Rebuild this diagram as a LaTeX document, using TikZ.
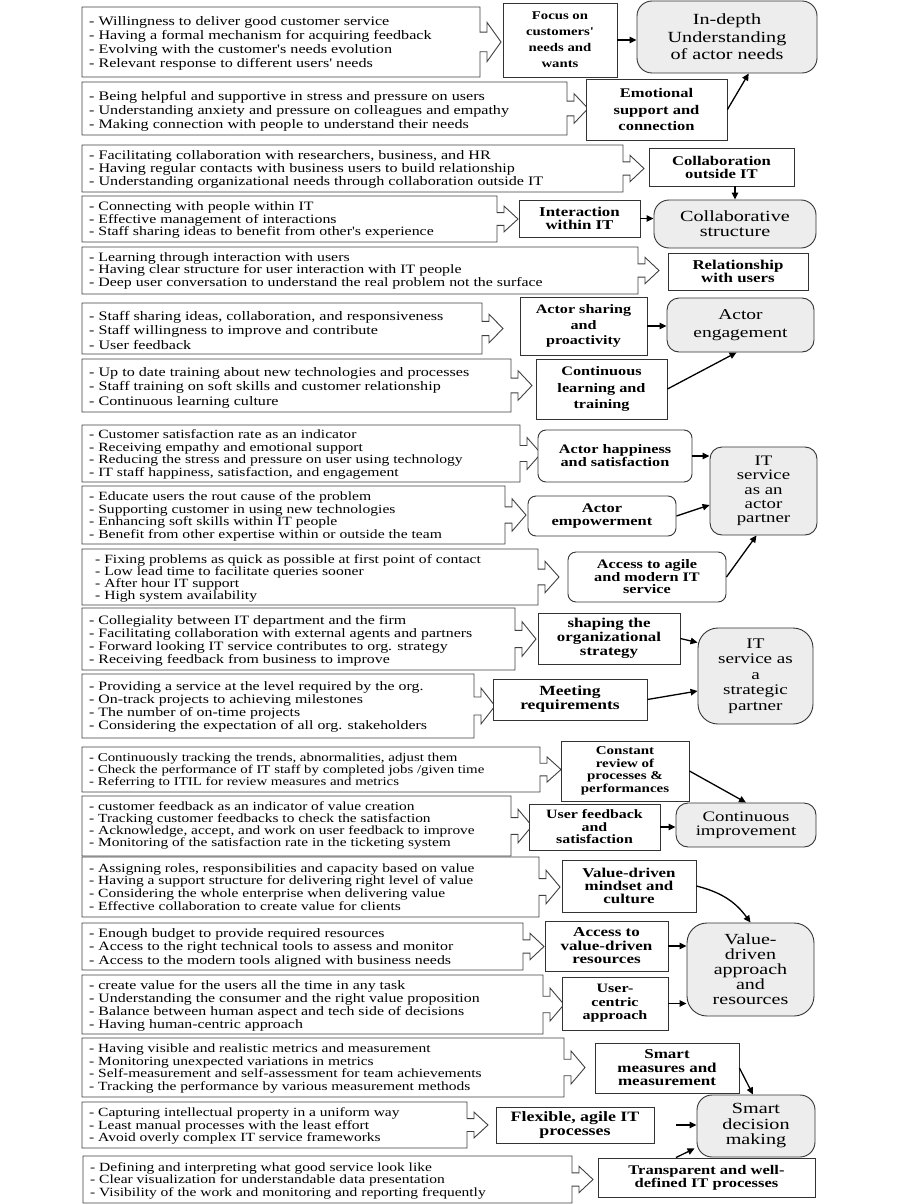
\documentclass[tikz,border=0pt]{standalone}
\usepackage{fontspec}
\setmainfont{Liberation Serif}
\newfontfamily\lfont{Liberation Serif}[FakeStretch=1.24]
\newfontfamily\mfont{Liberation Serif}[FakeStretch=1.25]
\newfontfamily\rfont{Liberation Serif}[FakeStretch=1.3]
\usetikzlibrary{arrows.meta,calc}

\tikzset{
 lout/.style={draw=black!75, line width=0.9pt, fill=white},
 ltxt/.style={anchor=west, align=left, inner sep=0pt, text=black},
 midbox/.style={draw=black!80, line width=0.9pt, fill=white, align=center, inner sep=0pt},
 rbox/.style={draw=black!80, line width=0.9pt, fill=black!7, align=center, inner sep=0pt},
 mf/.style 2 args={font=\mfont\bfseries\fontsize{#1}{#2}\selectfont},
 rf/.style 2 args={font=\rfont\fontsize{#1}{#2}\selectfont},
 conn/.style={-{Triangle[length=7pt,width=6.5pt]}, line width=1.3pt, black},
}

% #1 name, #2 x1, #3 y1, #4 x2, #5 y2, #6 text y, #7 font size, #8 skip, #9 text
\newcommand\callout[9]{%
 \pgfmathsetmacro\myCy{(#3+#5)/2}%
 \pgfmathsetmacro\myHh{0.28*(#5-#3)}%
 \pgfmathsetmacro\mySs{0.14*(#5-#3)}%
 \draw[lout] (#2,#3) -- (#4,#3) -- (#4,\myCy-\mySs) -- (#4+7,\myCy-\mySs) -- (#4+7,\myCy-\myHh)
   -- (#4+21,\myCy) -- (#4+7,\myCy+\myHh) -- (#4+7,\myCy+\mySs) -- (#4,\myCy+\mySs) -- (#4,#5) -- (#2,#5) -- cycle;
 \node[ltxt, font=\lfont\fontsize{#7}{#8}\selectfont] (#1) at (#2+7,#6) {#9};
}
% #1 style, #2 name, #3 x1, #4 y1, #5 x2, #6 y2, #7 text
\newcommand\boxat[7]{\node[#1, minimum width=#5-#3, minimum height=#6-#4] (#2) at ({(#3+#5)/2},{(#4+#6)/2}) {#7};}

\begin{document}
\begin{tikzpicture}[x=1pt,y=-1pt]
\fill[white] (0,0) rectangle (901,1204);
\useasboundingbox (0,0) rectangle (901,1204);

% ---------- left callout boxes ----------
\callout{L1}{82}{7}{480}{77}{43}{13}{14}{- Willingness to deliver good customer service\\- Having a formal mechanism for acquiring feedback\\- Evolving with the customer's needs evolution\\- Relevant response to different users' needs}
\callout{L2}{82}{82}{567}{135}{111}{13}{14}{- Being helpful and supportive in stress and pressure on users\\- Understanding anxiety and pressure on colleagues and empathy\\- Making connection with people to understand their needs}
\callout{L3}{82}{145}{623}{192}{169}{13}{13}{- Facilitating collaboration with researchers, business, and HR\\- Having regular contacts with business users to build relationship\\- Understanding organizational needs through collaboration outside IT}
\callout{L4}{82}{196}{497}{242}{220}{12.8}{12.5}{- Connecting with people within IT\\- Effective management of interactions\\- Staff sharing ideas to benefit from other's experience}
\callout{L5}{82}{247}{638}{294}{270.5}{12.8}{12.5}{- Learning through interaction with users\\- Having clear structure for user interaction with IT people\\- Deep user conversation to understand the real problem not the surface}
\callout{L6}{82}{303}{482}{354}{330}{13}{14.5}{- Staff sharing ideas, collaboration, and responsiveness\\- Staff willingness to improve and contribute\\- User feedback}
\callout{L7}{82}{359}{511}{412}{387.5}{13}{14.5}{- Up to date training about new technologies and processes\\- Staff training on soft skills and customer relationship\\- Continuous learning culture}
\callout{L8}{82}{425}{520}{482}{454.5}{12.6}{12.5}{- Customer satisfaction rate as an indicator\\- Receiving empathy and emotional support\\- Reducing the stress and pressure on user using technology\\- IT staff happiness, satisfaction, and engagement}
\callout{L9}{82}{486}{505}{544}{516.5}{12.6}{12.5}{- Educate users the rout cause of the problem\\- Supporting customer in using new technologies\\- Enhancing soft skills within IT people\\- Benefit from other expertise within or outside the team}
\callout{L10}{82}{549}{538}{605}{578}{12.6}{12}{\hspace*{6pt}- Fixing problems as quick as possible at first point of contact\\\hspace*{6pt}- Low lead time to facilitate queries sooner\\\hspace*{6pt}- After hour IT support\\\hspace*{6pt}- High system availability}
\callout{L11}{82}{608}{515}{670}{640.5}{12.8}{13}{- Collegiality between IT department and the firm\\- Facilitating collaboration with external agents and partners\\- Forward looking IT service contributes to org. strategy\\- Receiving feedback from business to improve}
\callout{L12}{82}{674}{474}{738}{706.5}{12.8}{13}{- Providing a service at the level required by the org.\\- On-track projects to achieving milestones\\- The number of on-time projects\\- Considering the expectation of all org. stakeholders}
\callout{L13}{82}{747}{540}{792}{771}{12}{12}{- Continuously tracking the trends, abnormalities, adjust them\\- Check the performance of IT staff by completed jobs /given time\\- Referring to ITIL for review measures and metrics}
\callout{L14}{82}{796}{511}{856}{825}{12.4}{12}{- customer feedback as an indicator of value creation\\- Tracking customer feedbacks to check the satisfaction\\- Acknowledge, accept, and work on user feedback to improve\\- Monitoring of the satisfaction rate in the ticketing system}
\callout{L15}{82}{857}{539}{917}{887}{12.5}{12.7}{- Assigning roles, responsibilities and capacity based on value\\- Having a support structure for delivering right level of value\\- Considering the whole enterprise when delivering value\\- Effective collaboration to create value for clients}
\callout{L16}{82}{923}{523}{970}{947.5}{12.8}{13.5}{- Enough budget to provide required resources\\- Access to the right technical tools to assess and monitor\\- Access to the modern tools aligned with business needs}
\callout{L17}{82}{975}{543}{1034}{1005.5}{12.8}{13}{- create value for the users all the time in any task\\- Understanding the consumer and the right value proposition\\- Balance between human aspect and tech side of decisions\\- Having human-centric approach}
\callout{L18}{82}{1038}{564}{1097}{1068.5}{12.5}{12.5}{- Having visible and realistic metrics and measurement\\- Monitoring unexpected variations in metrics\\- Self-measurement and self-assessment for team achievements\\- Tracking the performance by various measurement methods}
\callout{L19}{82}{1102}{467}{1148}{1126}{12.5}{12.5}{- Capturing intellectual property in a uniform way\\- Least manual processes with the least effort\\- Avoid overly complex IT service frameworks}
\callout{L20}{83}{1156}{572}{1203}{1180.5}{12.5}{12.5}{- Defining and interpreting what good service look like\\- Clear visualization for understandable data presentation\\- Visibility of the work and monitoring and reporting frequently}

% ---------- middle boxes ----------
\boxat{midbox, mf={11.8}{16}}{M1}{503}{3}{617}{77}{Focus on\\customers'\\needs and\\wants}
\boxat{midbox, mf={13.2}{16.5}}{M2}{586}{79}{727}{140}{Emotional\\support and\\connection}
\boxat{midbox, mf={13.3}{13}}{M3}{649}{148}{794}{186}{Collaboration\\outside IT}
\boxat{midbox, mf={13.5}{13}}{M4}{519}{200}{640}{237}{Interaction\\within IT}
\boxat{midbox, mf={13.5}{13}}{M5}{668}{253}{808}{290}{Relationship\\with users}
\boxat{midbox, mf={12.9}{15.5}}{M6}{520}{297}{647}{355}{Actor sharing\\and\\proactivity}
\boxat{midbox, mf={13}{16.5}}{M7}{536}{359}{667}{419}{Continuous\\learning and\\training}
\boxat{midbox, mf={13}{13}, rounded corners=8pt}{M8}{538}{430}{692}{482}{Actor happiness\\and satisfaction}
\boxat{midbox, mf={13.2}{13}, rounded corners=8pt}{M9}{528}{496}{676}{536}{Actor\\empowerment}
\boxat{midbox, mf={13}{12.5}, rounded corners=8pt}{M10}{568}{552}{726}{602}{Access to agile\\and modern IT\\service}
\boxat{midbox, mf={13.5}{14}}{M11}{538}{613}{680}{664}{shaping the\\organizational\\strategy}
\boxat{midbox, mf={14}{14}}{M12}{493}{679}{647}{720}{Meeting\\requirements}
\boxat{midbox, mf={12}{12.5}}{M13}{561}{741}{689}{801}{Constant\\review of\\processes \&\\performances}
\boxat{midbox, mf={12.7}{12.5}}{M14}{529}{804}{660}{850}{User feedback\\and\\satisfaction}
\boxat{midbox, mf={13.5}{13}}{M15}{562}{860}{696}{912}{Value-driven\\mindset and\\culture}
\boxat{midbox, mf={13.6}{13.5}}{M16}{545}{921}{668}{971}{Access to\\value-driven\\resources}
\boxat{midbox, mf={12.8}{13.5}}{M17}{562}{977}{668}{1030}{User-\\centric\\approach}
\boxat{midbox, mf={13.6}{13.5}}{M18}{595}{1043}{739}{1093}{Smart\\measures and\\measurement}
\boxat{midbox, mf={14.3}{14}}{M19}{496}{1107}{654}{1143}{Flexible, agile IT\\processes}
\boxat{midbox, mf={13.2}{13}}{M20}{598}{1158}{815}{1197}{Transparent and well-\\defined IT processes}

% ---------- right (outcome) boxes ----------
\boxat{rbox, rf={15.5}{17.5}, rounded corners=15pt}{R1}{637}{1}{817}{73}{In-depth\\Understanding\\of actor needs}
\boxat{rbox, rf={15.5}{15}, rounded corners=15pt}{R2}{654}{200}{816}{248}{Collaborative\\structure}
\boxat{rbox, rf={15}{18}, rounded corners=12pt}{R3}{667}{298}{814}{352}{Actor\\engagement}
\boxat{rbox, rf={14.5}{14.3}, rounded corners=12pt}{R4}{710}{447}{817}{535}{IT\\service\\as an\\actor\\partner}
\boxat{rbox, rf={14.7}{15.5}, rounded corners=20pt}{R5}{698}{628}{813}{724}{IT\\service as\\a\\strategic\\partner}
\boxat{rbox, rf={14.5}{13.5}, rounded corners=12pt}{R6}{676}{803}{816}{847}{Continuous\\improvement}
\boxat{rbox, rf={15.4}{15}, rounded corners=20pt}{R7}{687}{923}{814}{1016}{Value-\\driven\\approach\\and\\resources}
\boxat{rbox, rf={15.5}{15.5}, rounded corners=15pt}{R8}{697}{1095}{815}{1157}{Smart\\decision\\making}

% ---------- connectors ----------
\draw[conn] (M1.east) -- (M1.east -| R1.west);
\draw[conn] (M2.east) -- ($(R1.south west)!0.62!(R1.south east)$);
\draw[conn] (M3.south -| R2.north) -- (R2.north);
\draw[conn] (M4.east) -- (M4.east -| R2.west);
\draw[conn] (M6.east) -- (M6.east -| R3.west);
\draw[conn] (M7.east) -- ($(R3.south)+(-4,0)$);
\draw[conn] (M8.east) -- (M8.east -| R4.west);
\draw[conn] (M9.east) -- ($(R4.west)+(0,14)$);
\draw[conn] (M10.east) -- ($(R4.south)+(-7,0)$);
\draw[conn] (M11.east) -- ($(R5.north west)+(0,15)$);
\draw[conn] (M12.east) -- ($(R5.west)+(0,15)$);
\draw[conn] (M13.east) -- (R6.north);
\draw[conn] (M14.east) -- (M14.east -| R6.west);
\draw[conn] (M15.east) to[bend left=20] (R7.north);
\draw[conn] (M16.east) -- (M16.east -| R7.west);
\draw[conn] (M17.east) -- (M17.east -| R7.west);
\draw[conn] (M18.east) -- ($(R8.north)+(-3,0)$);
\draw[conn, shorten <=22pt] (M19.east) -- (M19.east -| R8.west);
\draw[conn] ($(M20.north west)!0.36!(M20.north east)$) -- ($(R8.south west)+(-2,-9)$);
\end{tikzpicture}
\end{document}
